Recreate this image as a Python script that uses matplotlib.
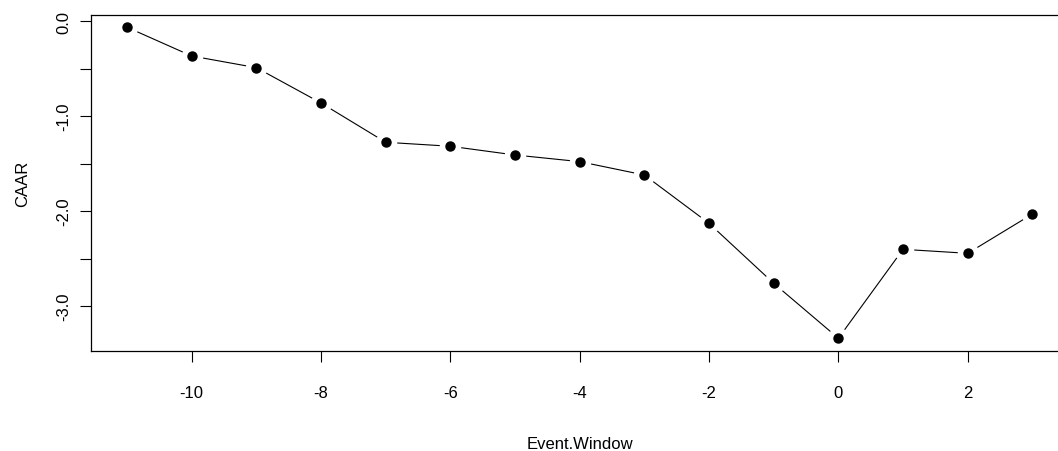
import matplotlib
matplotlib.use("Agg")
from matplotlib import rcParams
rcParams['font.family'] = 'Liberation Sans'
rcParams['axes.unicode_minus'] = False

import matplotlib.pyplot as plt
import numpy as np

# cumulative average abnormal return over the event window
event_window = [-11, -10, -9, -8, -7, -6, -5, -4, -3, -2, -1, 0, 1, 2, 3]
caar = [-0.063, -0.366, -0.489, -0.861, -1.275, -1.317, -1.409, -1.479,
        -1.620, -2.129, -2.761, -3.340, -2.403, -2.445, -2.031]

x_ticks = [-10, -8, -6, -4, -2, 0, 2]
y_ticks = [-3.0, -2.5, -2.0, -1.5, -1.0, -0.5, 0.0]
y_labels = ["-3.0", "", "-2.0", "", "-1.0", "", "0.0"]


def main():
    fig = plt.figure(figsize=(10.58, 4.52), dpi=100)
    # plot region runs a bit past the right edge of the figure
    ax = fig.add_axes([90.8 / 1058, 1 - 351.7 / 452, 977.8 / 1058, 335.9 / 452])

    # R style type="b": line with gaps around each point
    ax.plot(event_window, caar, color='black', lw=0.8, zorder=1)
    ax.plot(event_window, caar, ls='none', marker='o', ms=14.5,
            mfc='white', mec='white', zorder=2)
    ax.plot(event_window, caar, ls='none', marker='o', ms=6.5,
            mfc='black', mec='black', zorder=3)

    # data range padded by 4% like R
    xr = max(event_window) - min(event_window)
    yr = max(caar) - min(caar)
    ax.set_xlim(min(event_window) - 0.04 * xr, max(event_window) + 0.04 * xr)
    ax.set_ylim(min(caar) - 0.04 * yr, max(caar) + 0.04 * yr)

    ax.set_xticks(x_ticks)
    ax.set_xticklabels([str(t) for t in x_ticks])
    ax.set_yticks(y_ticks)
    ax.set_yticklabels(y_labels, rotation=90, va='center')

    ax.tick_params(axis='both', length=8, width=0.8, labelsize=12, color='black')
    ax.tick_params(axis='x', pad=16.5)
    ax.tick_params(axis='y', pad=6)
    for s in ax.spines.values():
        s.set_linewidth(0.9)

    ax.set_xlabel("Event.Window", fontsize=12, labelpad=26)
    ax.set_ylabel("CAAR", fontsize=12, labelpad=19)

    fig.savefig("out.png", dpi=100)


if __name__ == '__main__':
    main()
